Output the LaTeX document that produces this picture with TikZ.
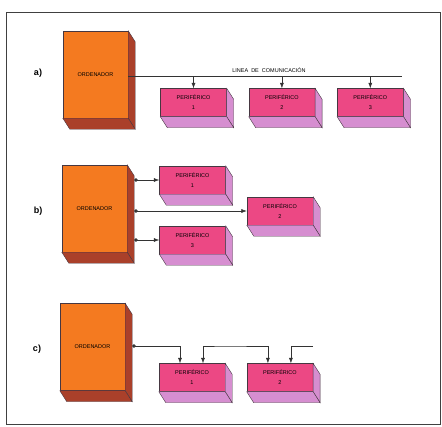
\documentclass[tikz,border=0pt]{standalone}
\usepackage{fontspec}
\setmainfont{Liberation Sans}
\usetikzlibrary{arrows.meta, positioning}
\definecolor{ordfront}{RGB}{244,122,32}
\definecolor{ordside}{RGB}{170,64,42}
\definecolor{perfront}{RGB}{236,72,132}
\definecolor{perside}{RGB}{214,142,208}
\definecolor{edge}{RGB}{70,55,65}

\begin{document}
\begin{tikzpicture}[x=1pt, y=-1pt,
    ordenador/.style={rectangle, draw=edge, line width=0.4pt, fill=ordfront, minimum width=65pt, minimum height=87pt, inner sep=0pt, font=\fontsize{5.5}{6}\selectfont},
    periferico/.style={rectangle, draw=edge, line width=0.4pt, fill=perfront, minimum width=66pt, minimum height=28pt, inner sep=0pt, align=center, font=\fontsize{5.5}{10}\selectfont},
    conn/.style={draw=black!80, line width=0.5pt, -{Latex[length=5.5pt,width=4pt]}},
    dotarrow/.style={{Circle[length=3.5pt]}-{Latex[length=5.5pt,width=4pt]}},
    tag/.style={font=\bfseries\fontsize{9}{10}\selectfont},
    ]
\useasboundingbox (0,0) rectangle (442,426);
\draw[black!75, line width=1pt] (6,12) rectangle (440,424);

% a) linea comun
\node[tag] (ta) at (38,73) {a)};
\node[ordenador] (oa) at (95.5,74.5) {ORDENADOR};
\node[periferico] (pa1) at (193.5,102.5) {PERIFÉRICO\\1};
\node[periferico, right=22pt of pa1] (pa2) {PERIFÉRICO\\2};
\node[periferico, right=22pt of pa2] (pa3) {PERIFÉRICO\\3};
\coordinate (fina) at (402,76);
\node[font=\fontsize{5.5}{6}\selectfont] (linea) at (269,70) {LINEA\ \ DE\ \ COMUNICACIÓN};

% b) en estrella
\node[tag] (tb) at (38,211) {b)};
\node[ordenador] (ob) at (94.5,208.5) {ORDENADOR};
\node[periferico] (pb1) at (192.5,180) {PERIFÉRICO\\1};
\node[periferico] (pb2) at (280,211) {PERIFÉRICO\\2};
\node[periferico] (pb3) at (192.5,240) {PERIFÉRICO\\3};

% c) en cadena
\node[tag] (tc) at (37,349) {c)};
\node[ordenador] (oc) at (92.5,347) {ORDENADOR};
\node[periferico] (pc1) at (192,377.5) {PERIFÉRICO\\1};
\node[periferico, right=21.5pt of pc1] (pc2) {PERIFÉRICO\\2};
\coordinate (finc) at (313,346);

% caras laterales
\foreach \n/\col in {oa/ordside, ob/ordside, oc/ordside, pa1/perside, pa2/perside, pa3/perside,
                     pb1/perside, pb2/perside, pb3/perside, pc1/perside, pc2/perside} {
  \filldraw[fill=\col, draw=edge, line width=0.4pt] (\n.north east) -- ++(7,11) -- ([shift={(7,11)}]\n.south east) -- (\n.south east) -- cycle;
  \filldraw[fill=\col, draw=edge, line width=0.4pt] (\n.south west) -- (\n.south east) -- ([shift={(7,11)}]\n.south east) -- ([shift={(7,11)}]\n.south west) -- cycle;
}

% conexiones
\draw[black!80, line width=0.5pt] (oa.east |- fina) -- (fina);
\foreach \p in {pa1, pa2, pa3}
  \draw[conn] (\p.north |- fina) -- (\p.north);

\foreach \p in {pb1, pb2, pb3}
  \draw[conn, dotarrow] ([xshift=7pt]ob.east |- \p.west) -- (\p.west);

\draw[conn, dotarrow] ([xshift=7pt]oc.east |- finc) -| ([xshift=-12pt]pc1.north);
\draw[conn, {Latex[length=5.5pt,width=4pt]}-{Latex[length=5.5pt,width=4pt]}] ([xshift=11pt]pc1.north) |- (finc -| pc1.east) -| ([xshift=-12pt]pc2.north);
\draw[conn] (finc) -| ([xshift=11pt]pc2.north);
\end{tikzpicture}
\end{document}
